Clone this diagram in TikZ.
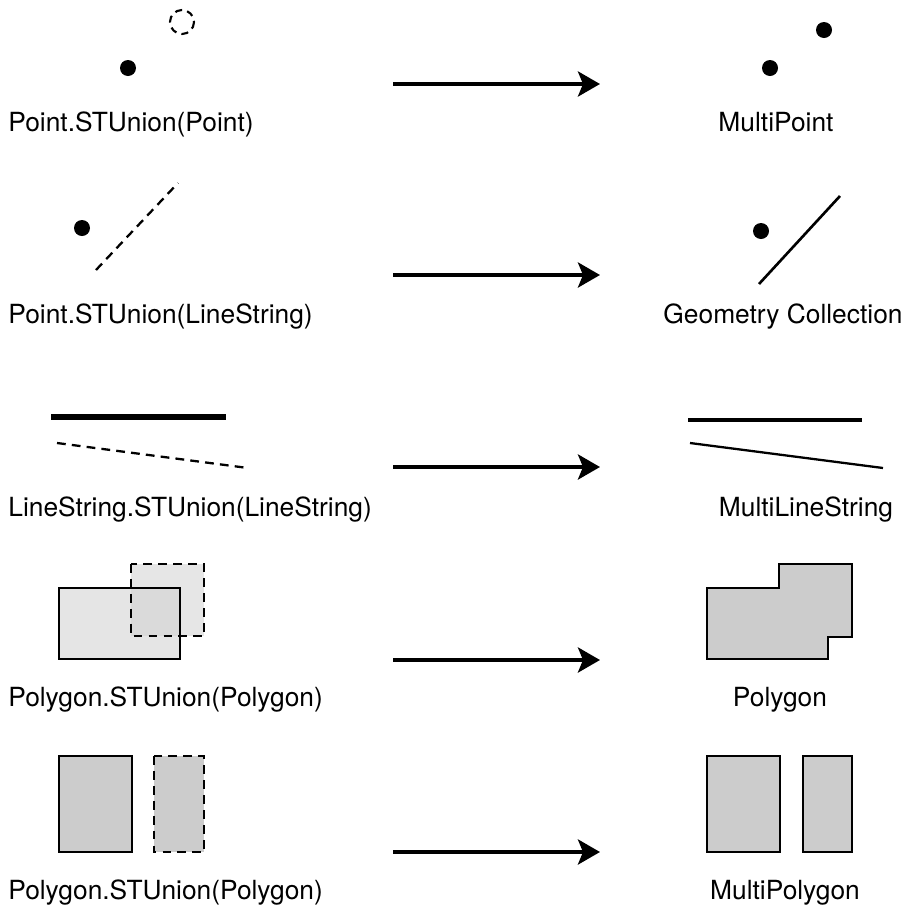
\documentclass[tikz,border=0pt]{standalone}
\usepackage{fontspec}
\setmainfont{TeX Gyre Heros}
\usepackage{tikz}
\usetikzlibrary{arrows.meta}

\begin{document}
\begin{tikzpicture}[x=0.02cm, y=-0.02cm]
            \tikzset{lbl/.style = {inner sep=0pt, font=\fontsize{15pt}{18pt}\selectfont}}
            \tikzset{bigarrow/.style = {line width=2.3pt, -{Stealth[length=0.44cm, width=0.5cm, inset=0.1cm]}}}
            \tikzset{geom/.style = {line width=1.3pt}}
            \tikzset{dashedge/.style = {line width=1.3pt, dash pattern=on 5pt off 3.5pt}}
            \tikzset{poly/.style = {geom, fill=black!20}}

            \useasboundingbox (0,0) rectangle (906,910);

            % point + point
            \draw[line width=1.2pt, dash pattern=on 4pt off 3pt] (182,22) circle (12);
            \fill (128,68) circle (8);
            \fill (770,68) circle (8);
            \fill (824,30) circle (8);

            % point + linestring
            \fill (82,228) circle (8);
            \draw[dashedge] (96,270) -- (178,183);
            \fill (761,231) circle (8);
            \draw[line width=1.5pt] (759,284) -- (840,196);

            % linestring + linestring
            \draw[line width=3.4pt] (51,417) -- (226,417);
            \draw[dashedge] (57,443) -- (248,468);
            \draw[line width=2.3pt] (688,420) -- (862,420);
            \draw[geom] (690,443) -- (883,468);

            % polygon + polygon, overlapping
            \fill[black!10] (59,588) rectangle (180,659);
            \draw[dashedge, fill=black!18, fill opacity=0.55] (131,564) rectangle (204,636);
            \draw[geom] (59,588) rectangle (180,659);
            \draw[poly] (707,588) -- (779,588) -- (779,564) -- (852,564) -- (852,637)
                -- (828,637) -- (828,659) -- (707,659) -- cycle;

            % polygon + polygon, apart
            \draw[poly] (59,756) rectangle (132,852);
            \draw[dashedge, fill=black!20] (154,756) rectangle (204,852);
            \draw[poly] (707,756) rectangle (780,852);
            \draw[poly] (803,756) rectangle (852,852);

            % labels
            \node[lbl, anchor=base west] (in1) at (8,131) {Point.STUnion(Point)};
            \node[lbl, anchor=base west] (in2) at (8,323) {Point.STUnion(LineString)};
            \node[lbl, anchor=base west] (in3) at (8,516) {LineString.STUnion(LineString)};
            \node[lbl, anchor=base west] (in4) at (8,706) {Polygon.STUnion(Polygon)};
            \node[lbl, anchor=base west] (in5) at (8,899) {Polygon.STUnion(Polygon)};

            \node[lbl, anchor=base] (out1) at (776,131) {MultiPoint};
            \node[lbl, anchor=base] (out2) at (783,323) {Geometry Collection};
            \node[lbl, anchor=base] (out3) at (806,516) {MultiLineString};
            \node[lbl, anchor=base] (out4) at (780,706) {Polygon};
            \node[lbl, anchor=base] (out5) at (785,899) {MultiPolygon};

            % arrows
            \coordinate (s1) at (393,84);  \coordinate (t1) at (600,84);
            \coordinate (s2) at (393,275); \coordinate (t2) at (600,275);
            \coordinate (s3) at (393,467); \coordinate (t3) at (600,467);
            \coordinate (s4) at (393,660); \coordinate (t4) at (600,660);
            \coordinate (s5) at (393,852); \coordinate (t5) at (600,852);

            \draw[bigarrow] (s1) -- (t1);
            \draw[bigarrow] (s2) -- (t2);
            \draw[bigarrow] (s3) -- (t3);
            \draw[bigarrow] (s4) -- (t4);
            \draw[bigarrow] (s5) -- (t5);

\end{tikzpicture}
\end{document}
